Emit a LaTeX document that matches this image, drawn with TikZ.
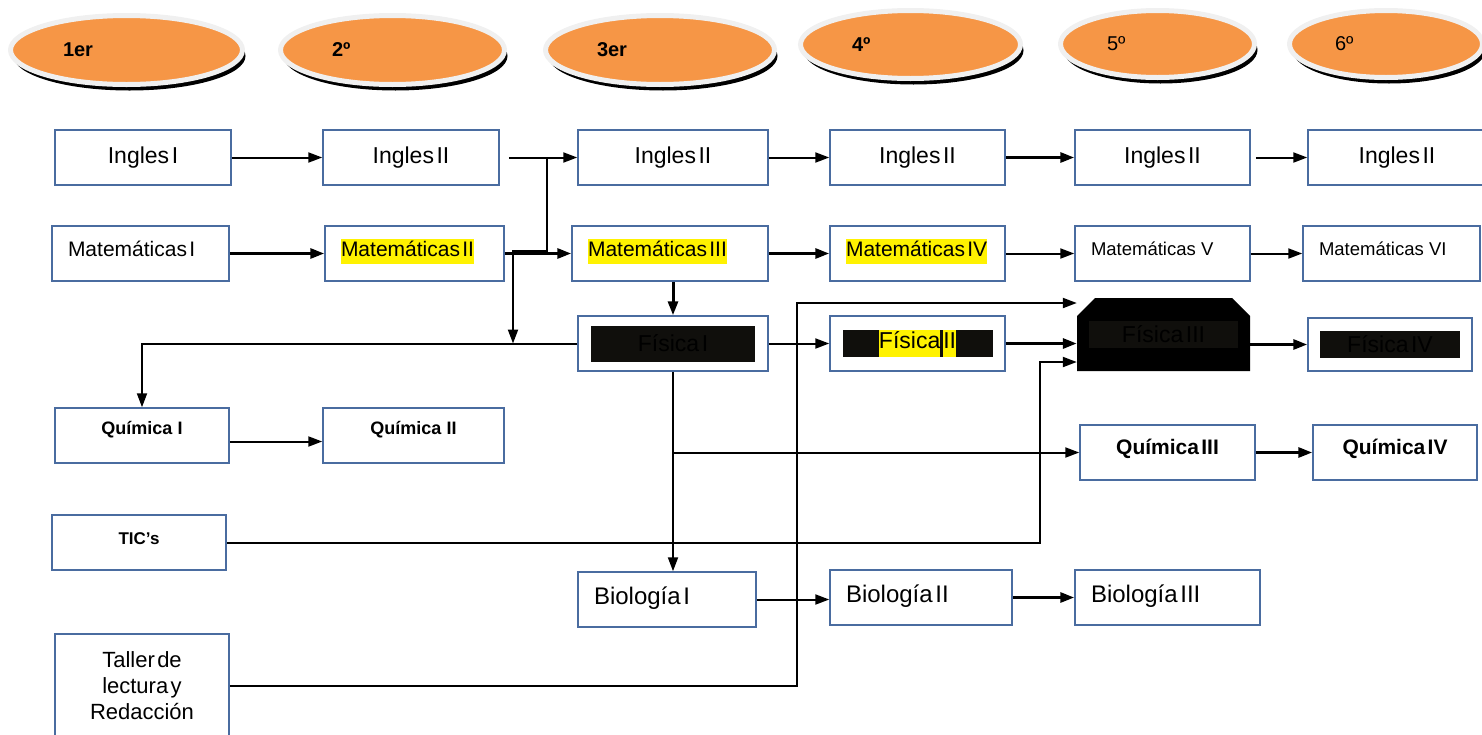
\documentclass[tikz,border=0pt]{standalone}
\usepackage{fontspec}
\setmainfont{Liberation Sans}[WordSpace=0.4]
\usetikzlibrary{arrows.meta,shapes.geometric,shapes.misc,shadows}
\definecolor{naranja}{RGB}{246,150,70}
\definecolor{aro}{RGB}{240,240,240}
\definecolor{azulcaja}{RGB}{74,108,160}
\definecolor{casinegro}{RGB}{16,15,12}
\newcommand{\resalta}[1]{{\setlength{\fboxsep}{0pt}\colorbox{yellow}{\strut #1}}}
\newcommand{\tapado}[3]{{\setlength{\fboxsep}{0pt}\colorbox{casinegro}{\parbox[c][#2][c]{#1}{\centering #3}}}}
\newcommand{\ancho}{\hspace{.28em}}
\tikzset{
  semestre/.style={ellipse, fill=naranja, draw=aro, line width=5pt, inner sep=0pt,
    align=flush left, font=\fontsize{20}{24}\selectfont\bfseries,
    general shadow={fill=black, shadow xshift=3pt, shadow yshift=-6pt}},
  marco/.style={draw=azulcaja, line width=1.5pt, fill=white, minimum height=55pt, inner ysep=0pt},
  caja/.style={marco, text height=17pt, text depth=5pt, font=\fontsize{23}{27}\selectfont},
  izq/.style={align=flush left, inner xsep=16pt},
  matem/.style={marco, izq, text height=15pt, text depth=10pt, font=\fontsize{21}{25}\selectfont},
  matchica/.style={marco, izq, text height=13pt, text depth=10pt, font=\fontsize{18.5}{22}\selectfont},
  fisica/.style={marco, font=\fontsize{23}{27}\selectfont},
  quim/.style={marco, text height=13pt, text depth=16pt, font=\fontsize{18}{22}\selectfont\bfseries},
  quimb/.style={marco, text height=15pt, text depth=12pt, font=\fontsize{21}{25}\selectfont\bfseries},
  bio/.style={marco, izq, text height=17.5pt, text depth=8.5pt, font=\fontsize{24}{28}\selectfont},
  flecha/.style={line width=2pt, -{Triangle[length=14pt,width=10pt]}},
  gruesa/.style={flecha, line width=3pt},
}
\begin{document}
\begin{tikzpicture}[x=1pt, y=-1pt]
  \useasboundingbox (0,0) rectangle (1482,734);
  % semestres
  \node[semestre, minimum width=232pt, minimum height=69pt, text width=127pt] (s1) at (126.5,50) {1er};
  \node[semestre, minimum width=224pt, minimum height=69pt, text width=121pt] (s2) at (392.5,50) {2º};
  \node[semestre, minimum width=229pt, minimum height=69pt, text width=126pt] (s3) at (660,50) {3er};
  \node[semestre, minimum width=220pt, minimum height=68pt, text width=117pt] (s4) at (910.5,44.5) {4º};
  \node[semestre, minimum width=194pt, minimum height=67pt, text width=101pt, font=\fontsize{20}{24}\selectfont] (s5) at (1157.5,44) {5º};
  \node[semestre, minimum width=193pt, minimum height=67pt, text width=102pt, font=\fontsize{20}{24}\selectfont] (s6) at (1386,44) {6º};

  \node[caja, minimum width=176pt] (ing1) at (143,157.5) {Ingles I};
  \node[caja, minimum width=176pt] (ing2) at (411,157.5) {Ingles II};
  \node[caja, minimum width=190pt] (ing3) at (673,157.5) {Ingles II};
  \node[caja, minimum width=175pt] (ing4) at (917.5,157.5) {Ingles II};
  \node[caja, minimum width=175pt] (ing5) at (1162.5,157.5) {Ingles II};
  \node[caja, minimum width=178pt] (ing6) at (1397,157.5) {Ingles II};

  \node[matem, text width=145pt] (mat1) at (140.5,253.5) {Matemáticas I};
  \node[matem, text width=147pt] (mat2) at (414.5,253.5) {\resalta{Matemáticas II}};
  \node[matem, text width=164pt] (mat3) at (670,253.5) {\resalta{Matemáticas III}};
  \node[matem, text width=143pt] (mat4) at (917.5,253.5) {\resalta{Matemáticas IV}};
  \node[matchica, text width=143pt] (mat5) at (1162.5,253.5) {Matemáticas\ancho V};
  \node[matchica, text width=145pt] (mat6) at (1391.5,253.5) {Matemáticas\ancho VI};

  \node[fisica, minimum width=190pt] (fis1) at (673,343.5) {\tapado{164pt}{36pt}{Física I}};
  \node[fisica, minimum width=175pt] (fis2) at (917.5,343.5) {\tapado{150pt}{27pt}{\resalta{Física}\hspace{3pt}\resalta{II}}};
  \node[chamfered rectangle, chamfered rectangle corners={north west,north east},
    chamfered rectangle xsep=4pt, chamfered rectangle ysep=14pt, fill=black, inner sep=0pt,
    minimum width=173pt, minimum height=73pt, font=\fontsize{23}{27}\selectfont] (fis3) at (1163.5,334.5) {\tapado{149pt}{27pt}{Física III}};
  \node[fisica, minimum width=164pt, minimum height=53pt] (fis4) at (1390,344.5) {\tapado{140pt}{27pt}{Física IV}};

  \node[quim, minimum width=174pt] (quim1) at (142,435.5) {Química\ancho I};
  \node[quim, minimum width=181pt] (quim2) at (413.5,435.5) {Química\ancho II};
  \node[quimb, minimum width=175pt] (quim3) at (1167.5,452.5) {Química III};
  \node[quimb, minimum width=164pt] (quim4) at (1395,452.5) {Química IV};

  \node[marco, minimum width=174pt, text height=12pt, text depth=9pt, font=\fontsize{17}{21}\selectfont\bfseries] (tics) at (139,542.5) {TIC’s};

  \node[bio, text width=146pt] (bio1) at (667,599.5) {Biología I};
  \node[bio, text width=150pt] (bio2) at (921,597.5) {Biología II};
  \node[bio, text width=153pt] (bio3) at (1167.5,597.5) {Biología III};

  \node[marco, align=center, minimum width=174pt, minimum height=104pt, font=\fontsize{22}{26}\selectfont] (taller) at (142,686) {Taller de\\lectura y\\Redacción};

  % ingles
  \draw[flecha] (ing1.east) -- (ing2.west);
  \draw[flecha] ([xshift=9pt]ing2.east) -- (ing3.west);
  \draw[flecha] (ing3.east) -- (ing4.west);
  \draw[gruesa] (ing4.east) -- (ing5.west);
  \draw[flecha] ([xshift=5pt]ing5.east) -- (ing6.west);
  \coordinate (ramaI) at (547,157.5);
  \coordinate (codoI) at (513,251);
  \draw[flecha] (ramaI) |- (codoI) -- (codoI |- fis1.west);
  % matematicas
  \draw[gruesa] (mat1.east) -- (mat2.west);
  \draw[gruesa] (mat2.east) -- (mat3.west);
  \draw[gruesa] (mat3.east) -- (mat4.west);
  \draw[flecha] (mat4.east) -- (mat5.west);
  \draw[flecha] (mat5.east) -- (mat6.west);
  \draw[gruesa] (fis1.north |- mat3.south) -- (fis1.north);
  % fisica
  \draw[flecha] (fis1.west) -| (quim1.north);
  \draw[flecha] (fis1.east) -- (fis2.west);
  \draw[gruesa] (fis2.east) -- (fis2.east -| fis3.west);
  \draw[gruesa] (fis3.east |- fis4.west) -- (fis4.west);
  \draw[flecha] (fis1.south) -- (fis1.south |- bio1.north);
  \coordinate (ramaQ) at (fis1.south |- quim3.west);
  \draw[flecha] (ramaQ) -- (quim3.west);
  % quimica
  \draw[flecha] ([yshift=-6pt]quim1.east) -- ([yshift=-6pt]quim2.west);
  \draw[gruesa] (quim3.east) -- (quim4.west);
  % tics y taller
  \coordinate (codoT) at (1040,362);
  \draw[flecha] (tics.east) -| (codoT) -- (codoT -| fis3.west);
  \coordinate (codoL) at (797,303);
  \draw[flecha] (taller.east) -| (codoL) -- (codoL -| fis3.west);
  % biologia
  \draw[flecha] (bio1.east) -- (bio1.east -| bio2.west);
  \draw[gruesa] (bio2.east) -- (bio3.west);
\end{tikzpicture}
\end{document}
